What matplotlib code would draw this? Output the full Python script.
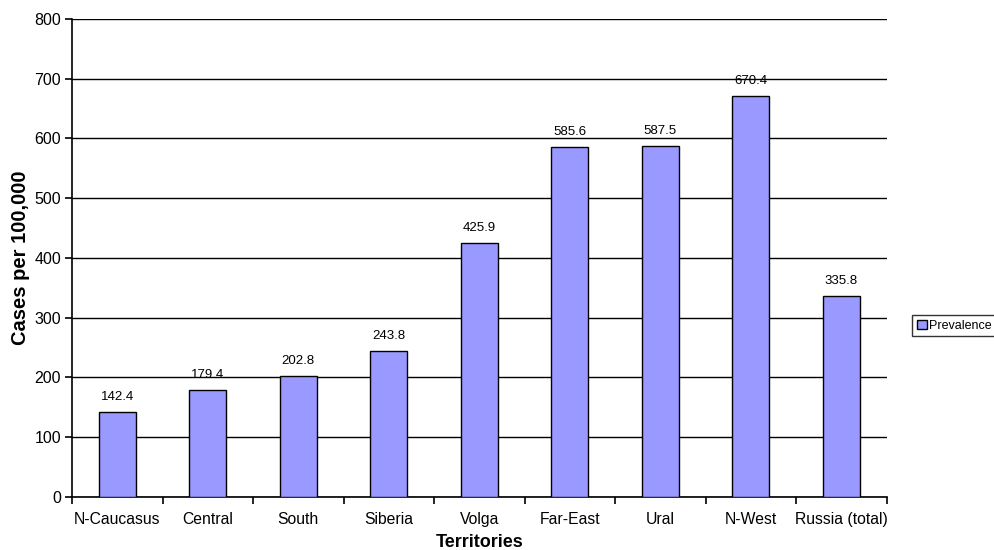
import matplotlib
matplotlib.use("Agg")
import matplotlib.pyplot as plt
import numpy as np
from matplotlib.ticker import FixedLocator, NullFormatter

categories = ["N-Caucasus", "Central", "South", "Siberia", "Volga", "Far-East", "Ural", "N-West", "Russia (total)"]
prevalence = [142.4, 179.4, 202.8, 243.8, 425.9, 585.6, 587.5, 670.4, 335.8]
yticks = [0, 100, 200, 300, 400, 500, 600, 700, 800]

plt.rcParams['font.family'] = ['Liberation Sans', 'DejaVu Sans']

fig = plt.figure(figsize=(9.95, 5.5), dpi=100)
ax = fig.add_axes([0.0724, 0.0964, 0.8186, 0.8691])

x = np.arange(len(categories))
bars = ax.bar(x, prevalence, width=0.41, color="#9999FF", edgecolor="black", linewidth=1.0,
              label="Prevalence", zorder=3)
for xi, v in zip(x, prevalence):
    ax.text(xi, v + 15, f"{v:.1f}", ha="center", va="bottom", fontsize=9.5, zorder=4)

ax.set_xlim(-0.5, len(categories) - 0.5)
ax.set_ylim(0, 800)
ax.set_yticks(yticks)
ax.set_yticklabels([str(t) for t in yticks], fontsize=11.5)
ax.set_xticks(x)
ax.set_xticklabels(categories, fontsize=11.3)
ax.tick_params(axis="x", which="major", length=0, pad=11)
ax.xaxis.set_minor_locator(FixedLocator(np.arange(-0.5, len(categories), 1.0)))
ax.xaxis.set_minor_formatter(NullFormatter())
ax.tick_params(axis="x", which="minor", length=5, width=1.2, direction="out")
ax.tick_params(axis="y", length=5, width=1.2, direction="out", pad=3)

ax.yaxis.grid(True, color="black", linewidth=1.0, zorder=0)
ax.set_axisbelow(True)
for s in ["top", "right"]:
    ax.spines[s].set_visible(False)
for s in ["left", "bottom"]:
    ax.spines[s].set_linewidth(1.2)

ax.set_ylabel("Cases per 100,000", fontsize=14.5, fontweight="bold", labelpad=3)
ax.set_xlabel("Territories", fontsize=13, fontweight="bold", labelpad=5)

leg = fig.legend(handles=[bars], labels=["Prevalence"], loc="center left",
                 bbox_to_anchor=(0.917, 0.408), fontsize=9, frameon=True, fancybox=False,
                 edgecolor="black", handlelength=0.8, handleheight=0.8, handletextpad=0.2,
                 borderpad=0.35, borderaxespad=0)
leg.get_frame().set_linewidth(1.0)

fig.savefig("out.png", dpi=100)
